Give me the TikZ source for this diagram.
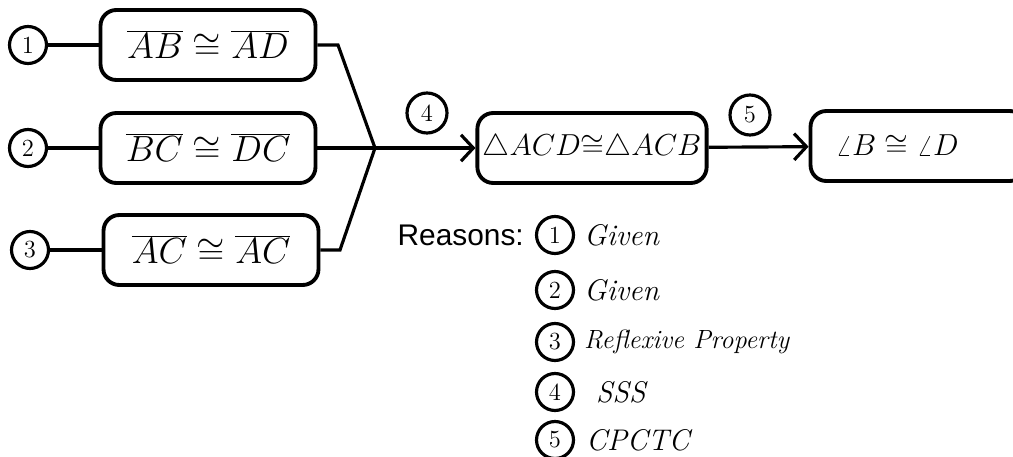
\documentclass[tikz,border=0pt]{standalone}
\usepackage{fontspec}
\newfontfamily\labelfont{Liberation Sans}
\usetikzlibrary{arrows.meta}

\begin{document}
\begin{tikzpicture}[x=0.02cm, y=-0.02cm,
    stmt/.style={draw, line width=2.2pt, rounded corners=9pt,
        minimum width=4.3cm, minimum height=1.4cm, inner sep=3pt,
        font=\fontsize{20}{24}\selectfont},
    num/.style={draw, circle, line width=1.8pt, minimum size=0.74cm,
        inner sep=0pt, font=\fontsize{14}{16}\selectfont},
    link/.style={line width=1.8pt},
    reason/.style={anchor=west, font=\fontsize{17}{20}\selectfont\itshape}]
    \clip (0,0) rectangle (1013,456);

    % Nodes
    \node[num] (n1) at (28,45) {1};
    \node[num] (n2) at (28,148) {2};
    \node[num] (n3) at (30,250) {3};

    \node[stmt] (s1) at (208,45) {$\overline{AB}\cong\overline{AD}$};
    \node[stmt] (s2) at (208,148) {$\overline{BC}\cong\overline{DC}$};
    \node[stmt] (s3) at (211,250) {$\overline{AC}\cong\overline{AC}$};

    \coordinate (k1) at (338,45);
    \coordinate (k3) at (340,250);
    \coordinate (j) at (375,148);

    \node[stmt, font=\fontsize{16}{19}\selectfont] (s4) at (592,148)
        {$\triangle ACD{\cong}\triangle ACB$};
    \node[stmt, text width=4.3cm-6pt, align=left, font=\fontsize{18}{22}\selectfont] (s5) at (918,146)
        {\hspace*{0.4cm}$\angle B\cong\angle D$};

    \node[num, minimum size=0.8cm] (n4) at (427,113) {4};
    \node[num, minimum size=0.8cm] (n5) at (750,115) {5};

    % Reasons
    \node[anchor=east, font=\labelfont\fontsize{17}{20}\selectfont] (rs) at (530,235) {Reasons:};
    \node[num] (r1) at (555,235) {1};
    \node[num] (r2) at (555,290) {2};
    \node[num] (r3) at (555,342) {3};
    \node[num] (r4) at (555,392) {4};
    \node[num] (r5) at (555,440) {5};

    \node[reason] (t1) at (578,235) {Given};
    \node[reason] (t2) at (578,290) {Given};
    \node[reason, font=\fontsize{15}{18}\selectfont\itshape] (t3) at (578,342) {Reflexive Property};
    \node[reason] (t4) at (590,392) {SSS};
    \node[reason] (t5) at (580,440) {CPCTC};

    % Lines
    \draw[link] (n1) -- (s1);
    \draw[link] (n2) -- (s2);
    \draw[link] (n3) -- (s3);

    \draw[link] (s1) -- (k1) -- (j);
    \draw[link] (s2) -- (j);
    \draw[link] (s3) -- (k3) -- (j);

    \draw[link, -{Straight Barb[length=7pt, width=15pt]}] (j) -- (s4);
    \draw[link, -{Straight Barb[length=7pt, width=15pt]}] (s4) -- (s5);
\end{tikzpicture}
\end{document}
